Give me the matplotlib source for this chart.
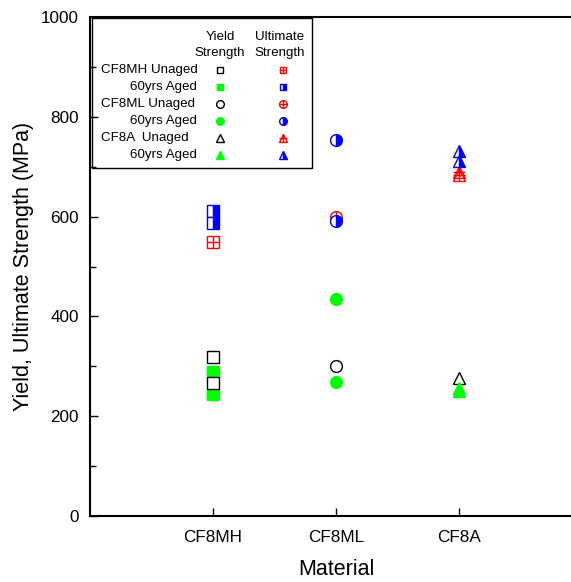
import numpy as np
import matplotlib
matplotlib.use("Agg")
import matplotlib.pyplot as plt
from matplotlib.patches import Rectangle

plt.rcParams['font.family'] = ['Liberation Sans', 'DejaVu Sans']

materials = ["CF8MH", "CF8ML", "CF8A"]
mat_pos = [1, 2, 3]

# yield strength (MPa)
cf8mh_yield_unaged = [319, 266]
cf8mh_yield_aged = [289, 245]
cf8ml_yield_unaged = [301]
cf8ml_yield_aged = [434, 269]
cf8a_yield_unaged = [277]
cf8a_yield_aged = [257, 251]

# ultimate strength (MPa)
cf8mh_uts_unaged = [550]
cf8mh_uts_aged = [612, 587]
cf8ml_uts_unaged = [600]
cf8ml_uts_aged = [753, 592]
cf8a_uts_unaged = [690, 683]
cf8a_uts_aged = [732, 712]

GREEN = '#00ff00'
BLUE = '#0000ff'
RED = '#ff0000'


def open_mark(ax, x, y, marker, color, ms, **kw):
    ax.plot(x, y, marker, ls='none', mfc='white', mec=color, ms=ms, mew=1.0, **kw)


def filled_mark(ax, x, y, marker, color, ms, **kw):
    ax.plot(x, y, marker, ls='none', mfc=color, mec=color, ms=ms, mew=1.0, **kw)


def half_mark(ax, x, y, marker, color, ms, **kw):
    ax.plot(x, y, marker, ls='none', mfc=color, mfcalt='white', fillstyle='right',
            mec=color, ms=ms, mew=1.0, **kw)


def cross_mark(ax, x, y, marker, color, ms, **kw):
    ax.plot(x, y, marker, ls='none', mfc='none', mec=color, ms=ms, mew=1.0, **kw)
    ax.plot(x, y, '+', ls='none', mec=color, ms=ms, mew=1.0, **kw)


fig = plt.figure(figsize=(5.71, 5.82), dpi=100)
ax = fig.add_axes([90 / 571, 66 / 582, 492 / 571, 499 / 582])

# CF8MH
x = mat_pos[0]
half_mark(ax, [x] * len(cf8mh_uts_aged), cf8mh_uts_aged, 's', BLUE, 8)
cross_mark(ax, [x] * len(cf8mh_uts_unaged), cf8mh_uts_unaged, 's', RED, 8)
filled_mark(ax, [x] * len(cf8mh_yield_aged), cf8mh_yield_aged, 's', GREEN, 8)
open_mark(ax, [x] * len(cf8mh_yield_unaged), cf8mh_yield_unaged, 's', 'black', 8)

# CF8ML
x = mat_pos[1]
cross_mark(ax, [x] * len(cf8ml_uts_unaged), cf8ml_uts_unaged, 'o', RED, 8.5)
half_mark(ax, [x] * len(cf8ml_uts_aged), cf8ml_uts_aged, 'o', BLUE, 8.5)
filled_mark(ax, [x] * len(cf8ml_yield_aged), cf8ml_yield_aged, 'o', GREEN, 8.5)
open_mark(ax, [x] * len(cf8ml_yield_unaged), cf8ml_yield_unaged, 'o', 'black', 8.5)

# CF8A
x = mat_pos[2]
cross_mark(ax, [x] * len(cf8a_uts_unaged), cf8a_uts_unaged, '^', RED, 9)
half_mark(ax, [x] * len(cf8a_uts_aged), cf8a_uts_aged, '^', BLUE, 9)
open_mark(ax, [x] * len(cf8a_yield_unaged), cf8a_yield_unaged, '^', 'black', 9)
filled_mark(ax, [x] * len(cf8a_yield_aged), cf8a_yield_aged, '^', GREEN, 9)

ax.set_xlim(0, 4)
ax.set_ylim(0, 1000)
ax.set_xticks(mat_pos)
ax.set_xticklabels(materials)
ax.set_yticks(np.arange(0, 1001, 200))
ax.set_yticks(np.arange(100, 1000, 200), minor=True)
ax.tick_params(direction='in', length=6, width=1, labelsize=12.3, pad=8)
ax.tick_params(which='minor', direction='in', length=4, width=1)
ax.tick_params(axis='x', pad=10)
for s in ax.spines.values():
    s.set_linewidth(1.5)
ax.set_xlabel('Material', fontsize=15.5, labelpad=10)
ax.set_ylabel('Yield, Ultimate Strength (MPa)', fontsize=15.5, labelpad=5)

# hand-made legend box in the upper left
ax.add_patch(Rectangle((0.004, 0.697), 0.447, 0.301, transform=ax.transAxes,
                       fill=False, ec='black', lw=1.0, zorder=5))
tf = ax.transAxes
ax.text(0.264, 0.944, 'Yield\nStrength', transform=tf, ha='center', va='center',
        fontsize=9.6, linespacing=1.35)
ax.text(0.386, 0.944, 'Ultimate\nStrength', transform=tf, ha='center', va='center',
        fontsize=9.6, linespacing=1.35)

rows_y = [(516 - yy) / 499 for yy in [70, 87, 104, 121, 138, 155]]
labels = ['CF8MH Unaged', '60yrs Aged', 'CF8ML Unaged', '60yrs Aged',
          'CF8A  Unaged', '60yrs Aged']
for yy, lab in zip(rows_y, labels):
    lx = 0.022 if 'Unaged' in lab else 0.081
    ax.text(lx, yy, lab, transform=tf, ha='left', va='center', fontsize=9.6)

yc, uc = 0.264, 0.392
lk = dict(transform=tf, clip_on=False)
open_mark(ax, [yc], [rows_y[0]], 's', 'black', 5, **lk)
cross_mark(ax, [uc], [rows_y[0]], 's', RED, 5, **lk)
filled_mark(ax, [yc], [rows_y[1]], 's', GREEN, 5, **lk)
half_mark(ax, [uc], [rows_y[1]], 's', BLUE, 5, **lk)
open_mark(ax, [yc], [rows_y[2]], 'o', 'black', 5.5, **lk)
cross_mark(ax, [uc], [rows_y[2]], 'o', RED, 5.5, **lk)
filled_mark(ax, [yc], [rows_y[3]], 'o', GREEN, 5.5, **lk)
half_mark(ax, [uc], [rows_y[3]], 'o', BLUE, 5.5, **lk)
open_mark(ax, [yc], [rows_y[4]], '^', 'black', 6, **lk)
cross_mark(ax, [uc], [rows_y[4]], '^', RED, 6, **lk)
filled_mark(ax, [yc], [rows_y[5]], '^', GREEN, 6, **lk)
half_mark(ax, [uc], [rows_y[5]], '^', BLUE, 6, **lk)

fig.savefig('out.png', dpi=100)
